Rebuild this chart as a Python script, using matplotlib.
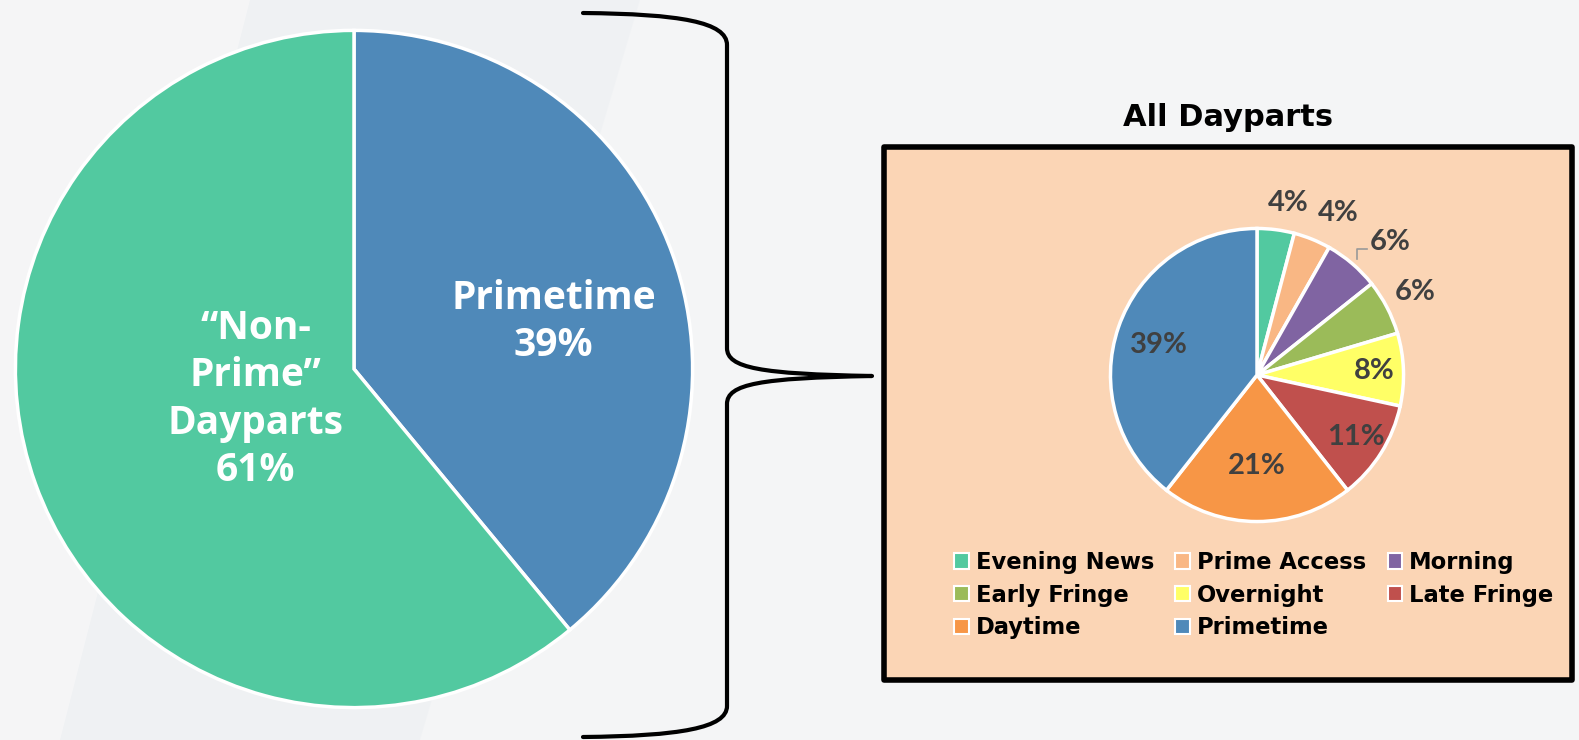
import numpy as np
import matplotlib
matplotlib.use('Agg')
import matplotlib.pyplot as plt
from matplotlib.patches import Rectangle, Patch, PathPatch, Polygon
from matplotlib.path import Path

# big pie: primetime vs everything else
big_labels = ['Primetime\n39%', '\u201cNon-\nPrime\u201d\nDayparts\n61%']
big_values = [39, 61]
big_colors = ['#4f89b9', '#52c9a0']

# small pie: all dayparts (clockwise from 12 o'clock)
dayparts = ['Evening News', 'Prime Access', 'Morning', 'Early Fringe',
            'Overnight', 'Late Fringe', 'Daytime', 'Primetime']
shares = [4.1, 4.1, 6.1, 6.1, 8.0, 11.0, 21.2, 39.4]
share_labels = ['4%', '4%', '6%', '6%', '8%', '11%', '21%', '39%']
part_colors = ['#52c9a0', '#f9b784', '#8064a2', '#9bbb59',
               '#ffff66', '#c0504d', '#f79646', '#4f89b9']
label_dist = [1.19, 1.24, 1.3, 1.22, 0.8, 0.8, 0.62, 0.7]
label_nudge = [-3, -4.5, 0, 0, 0, 0, 0, 2]   # degrees, clockwise is negative

W, H = 1579, 740
fig = plt.figure(figsize=(W / 100, H / 100), dpi=100)
fig.patch.set_facecolor('#f4f5f6')

def px_axes(cx, cy, r):
    return fig.add_axes([(cx - r) / W, (H - cy - r) / H, 2 * r / W, 2 * r / H])

# overlay in pixel coords for background, brace and box
over = fig.add_axes([0, 0, 1, 1], zorder=0)
over.set_xlim(0, W)
over.set_ylim(H, 0)
over.axis('off')

# faint diagonal background bands
over.add_patch(Polygon([(0, 0), (640, 0), (420, 740), (0, 740)],
                       color='#eceff2', alpha=0.5, lw=0))
over.add_patch(Polygon([(0, 0), (250, 0), (60, 740), (0, 740)],
                       color='#f7f7f8', alpha=0.8, lw=0))

verts = [(583, 13), (680, 14), (727, 22), (727, 45),
         (727, 348),
         (727, 368), (760, 374), (872, 376),
         (760, 378), (727, 384), (727, 404),
         (727, 706),
         (727, 728), (680, 736), (583, 737)]
codes = [Path.MOVETO, Path.CURVE4, Path.CURVE4, Path.CURVE4,
         Path.LINETO,
         Path.CURVE4, Path.CURVE4, Path.CURVE4,
         Path.CURVE4, Path.CURVE4, Path.CURVE4,
         Path.LINETO,
         Path.CURVE4, Path.CURVE4, Path.CURVE4]
over.add_patch(PathPatch(Path(verts, codes), fill=False, lw=3, color='black',
                         capstyle='round', joinstyle='round'))

over.add_patch(Rectangle((884, 147), 688, 533, facecolor='#fbd5b5',
                         edgecolor='black', lw=4, joinstyle='round'))
over.text(1228, 117, 'All Dayparts', ha='center', va='center',
          fontsize=22, fontweight='bold', family='DejaVu Sans')

# big pie
ax1 = px_axes(354, 369, 342)
ax1.pie(big_values, colors=big_colors, startangle=90, counterclock=False,
        radius=1, wedgeprops=dict(edgecolor='white', linewidth=2.5))
ax1.set_xlim(-1.01, 1.01)
ax1.set_ylim(-1.01, 1.01)
ax1.text(0.59, 0.14, big_labels[0], ha='center', va='center', color='white',
         fontsize=28, fontweight='bold', family='Open Sans', linespacing=1.27)
ax1.text(-0.29, -0.09, big_labels[1], ha='center', va='center', color='white',
         fontsize=28, fontweight='bold', family='Open Sans', linespacing=1.27)

# small pie
ax2 = px_axes(1257, 375, 148)
wedges, _ = ax2.pie(shares, colors=part_colors, startangle=90, counterclock=False,
                    radius=1, wedgeprops=dict(edgecolor='white', linewidth=2.5))
ax2.set_xlim(-1.01, 1.01)
ax2.set_ylim(-1.01, 1.01)
for i, w in enumerate(wedges):
    ang = np.deg2rad((w.theta1 + w.theta2) / 2 + label_nudge[i])
    d = label_dist[i]
    x, y = d * np.cos(ang), d * np.sin(ang)
    if i == 2:
        # leader line for the morning label
        ax2.plot([0.68, 0.68, 0.75], [0.79, 0.86, 0.86], color='#999999',
                 lw=1.2, clip_on=False)
        x, y = 0.91, 0.91
    ax2.text(x, y, share_labels[i], ha='center', va='center', fontsize=21,
             fontweight='bold', color='#404040', family='Lato')

# legend laid out row-wise across three columns
order = [0, 3, 6, 1, 4, 7, 2, 5]
handles = [Patch(facecolor=part_colors[i], edgecolor='white', lw=1.5) for i in order]
labels = [dayparts[i] for i in order]
fig.legend(handles, labels, ncol=3, loc='upper left',
           bbox_to_anchor=(954 / W, 1 - 551 / H), frameon=False,
           prop=dict(family='DejaVu Sans', weight='bold', size=16.3),
           handlelength=0.65, handleheight=0.65, handletextpad=0.3,
           columnspacing=0.95, labelspacing=0.42, borderaxespad=0, borderpad=0)

fig.savefig('out.png', dpi=100, facecolor=fig.get_facecolor())
